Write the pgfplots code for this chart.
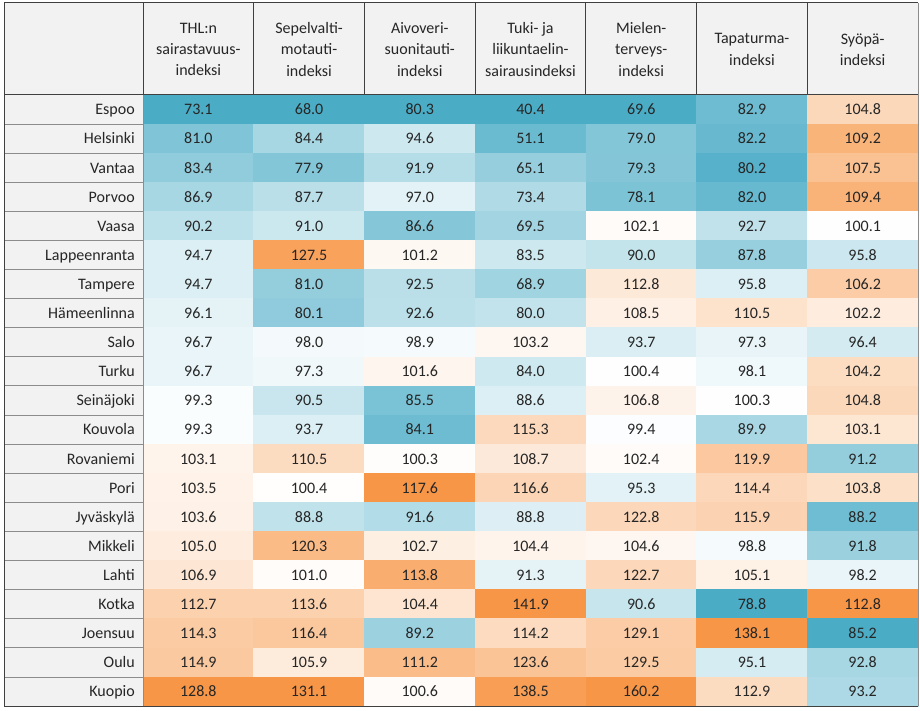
\documentclass[border=0pt]{standalone}
\usepackage{pgfplots}
\usepackage{pgfplotstable}
\pgfplotsset{compat=1.18}
\usepackage{fontspec}
\setmainfont{Carlito}
\definecolor{lgray}{HTML}{F2F2F2}
\definecolor{darkline}{HTML}{404040}
\definecolor{sepline}{HTML}{8C8C8C}
\definecolor{txt}{HTML}{262626}
\newcommand{\cellfont}{\fontsize{12}{14}\selectfont}
\pgfdeclareplotmark{cellrect}{%
  \pgfpathrectangle{\pgfpoint{-41.6pt}{-11pt}}{\pgfpoint{83.2pt}{22pt}}%
  \pgfusepathqfillstroke}
\pgfdeclareplotmark{labelrect}{%
  \pgfpathrectangle{\pgfpoint{-52.1pt}{-11pt}}{\pgfpoint{104.2pt}{22pt}}%
  \pgfusepathqfillstroke}
\pgfdeclareplotmark{nomark}{}

\pgfplotstableread{
row name a b c d e f g
0 Espoo 73.1 68.0 80.3 40.4 69.6 82.9 104.8
1 Helsinki 81.0 84.4 94.6 51.1 79.0 82.2 109.2
2 Vantaa 83.4 77.9 91.9 65.1 79.3 80.2 107.5
3 Porvoo 86.9 87.7 97.0 73.4 78.1 82.0 109.4
4 Vaasa 90.2 91.0 86.6 69.5 102.1 92.7 100.1
5 Lappeenranta 94.7 127.5 101.2 83.5 90.0 87.8 95.8
6 Tampere 94.7 81.0 92.5 68.9 112.8 95.8 106.2
7 Hämeenlinna 96.1 80.1 92.6 80.0 108.5 110.5 102.2
8 Salo 96.7 98.0 98.9 103.2 93.7 97.3 96.4
9 Turku 96.7 97.3 101.6 84.0 100.4 98.1 104.2
10 Seinäjoki 99.3 90.5 85.5 88.6 106.8 100.3 104.8
11 Kouvola 99.3 93.7 84.1 115.3 99.4 89.9 103.1
12 Rovaniemi 103.1 110.5 100.3 108.7 102.4 119.9 91.2
13 Pori 103.5 100.4 117.6 116.6 95.3 114.4 103.8
14 Jyväskylä 103.6 88.8 91.6 88.8 122.8 115.9 88.2
15 Mikkeli 105.0 120.3 102.7 104.4 104.6 98.8 91.8
16 Lahti 106.9 101.0 113.8 91.3 122.7 105.1 98.2
17 Kotka 112.7 113.6 104.4 141.9 90.6 78.8 112.8
18 Joensuu 114.3 116.4 89.2 114.2 129.1 138.1 85.2
19 Oulu 114.9 105.9 111.2 123.6 129.5 95.1 92.8
20 Kuopio 128.8 131.1 100.6 138.5 160.2 112.9 93.2
}\datatable

% #1 column, #2 x centre, #3 column minimum, #4 column maximum
\newcommand{\heatcol}[4]{%
\addplot[scatter, only marks, mark=cellrect, line width=0.3pt,
  scatter/use mapped color={draw=mapped color, fill=mapped color},
  point meta={(\thisrow{#1}<100)*(\thisrow{#1}-100)/(100-#3)+(1-(\thisrow{#1}<100))*(\thisrow{#1}-100)/(#4-100)}]
  table[x expr=#2, y expr=109.55+29.1*\thisrow{row}]{\datatable};
\addplot[only marks, mark=nomark,
  point meta=\thisrow{#1},
  visualization depends on={\thisrow{#1} \as \rawval},
  nodes near coords={\pgfmathprintnumber[fixed,fixed zerofill,precision=1,assume math mode=true]{\rawval}},
  every node near coord/.append style={anchor=base, yshift=-4pt, text=txt, font=\cellfont, inner sep=0pt}]
  table[x expr=#2, y expr=109.55+29.1*\thisrow{row}]{\datatable};
}

\begin{document}
\begin{tikzpicture}
\begin{axis}[
  set layers=standard,
  scale only axis, width=690pt, height=532.5pt,
  xmin=0, xmax=920, ymin=0, ymax=710, y dir=reverse,
  hide axis, clip=false,
  colormap={heat}{rgb255(0cm)=(75,172,198); rgb255(1cm)=(255,255,255); rgb255(2cm)=(247,150,70)},
  point meta min=-1, point meta max=1,
]
\begin{pgfonlayer}{axis background}
\fill[white] (axis cs:0,0) rectangle (axis cs:920,710);
\fill[lgray] (axis cs:4,3) rectangle (axis cs:918,95);
\fill[lgray] (axis cs:4,95) rectangle (axis cs:143,706);
\end{pgfonlayer}

% row labels column
\addplot[only marks, mark=labelrect, line width=0.3pt,
  mark options={fill=lgray, draw=lgray},
  point meta=explicit symbolic, nodes near coords,
  every node near coord/.append style={anchor=base east, xshift=46.1pt, yshift=-4pt, text=txt, font=\cellfont, inner sep=0pt}]
  table[x expr=73.5, y expr=109.55+29.1*\thisrow{row}, meta=name]{\datatable};

\heatcol{a}{198.36}{73.1}{128.8}
\heatcol{b}{309.07}{68.0}{131.1}
\heatcol{c}{419.79}{80.3}{117.6}
\heatcol{d}{530.50}{40.4}{141.9}
\heatcol{e}{641.21}{69.6}{160.2}
\heatcol{f}{751.93}{78.8}{138.1}
\heatcol{g}{862.64}{85.2}{112.8}

% borders
\begin{pgfonlayer}{axis foreground}
\pgfplotsinvokeforeach{1,...,20}{
  \draw[sepline, line width=0.75pt] (axis cs:4,{95+29.1*#1}) -- (axis cs:143,{95+29.1*#1});
}
\pgfplotsinvokeforeach{0,...,6}{
  \draw[darkline, line width=0.75pt] (axis cs:{143+110.714*#1},3) -- (axis cs:{143+110.714*#1},95);
}
\draw[sepline, line width=0.6pt] (axis cs:143,95) -- (axis cs:143,706);
\draw[sepline, line width=0.75pt] (axis cs:918,3) -- (axis cs:918,706);
\draw[darkline, line width=0.75pt] (axis cs:4,3) -- (axis cs:918,3);
\draw[darkline, line width=0.75pt] (axis cs:4,95) -- (axis cs:918,95);
\draw[darkline, line width=0.75pt] (axis cs:4,3) -- (axis cs:4,706);
\draw[darkline, line width=0.75pt] (axis cs:4,706) -- (axis cs:918,706);
\end{pgfonlayer}

% header texts
\begin{scope}[every node/.style={align=center, text=txt, font=\fontsize{12}{16}\selectfont, inner sep=0pt}]
\node at (axis cs:198.36,49.5) {THL:n\\sairastavuus-\\indeksi};
\node at (axis cs:309.07,49.5) {Sepelvalti-\\motauti-\\indeksi};
\node at (axis cs:419.79,49.5) {Aivoveri-\\suonitauti-\\indeksi};
\node at (axis cs:530.50,49.5) {Tuki- ja\\liikuntaelin-\\sairausindeksi};
\node at (axis cs:641.21,49.5) {Mielen-\\terveys-\\indeksi};
\node at (axis cs:751.93,49.5) {Tapaturma-\\indeksi};
\node at (axis cs:862.64,49.5) {Syöpä-\\indeksi};
\end{scope}
\end{axis}
\end{tikzpicture}
\end{document}
